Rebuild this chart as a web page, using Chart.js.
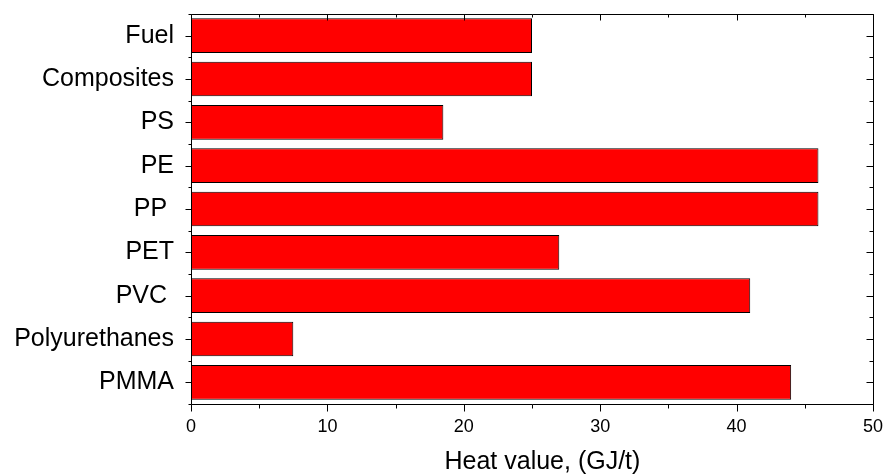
<!DOCTYPE html>
<html>
<head>
<meta charset="utf-8">
<script src="https://cdn.jsdelivr.net/npm/chart.js@4"></script>
<style>
  html, body { margin: 0; padding: 0; background: #fff; }
  #wrap { width: 884px; height: 475px; }
</style>
</head>
<body>
<div id="wrap"><canvas id="heatChart" width="884" height="475"></canvas></div>
<script>
// categories top to bottom, heat values in GJ/t
const categories = ["Fuel", "Composites", "PS", "PE", "PP ", "PET", "PVC ", "Polyurethanes", "PMMA"];
const heatValues = [25, 25, 18.5, 46, 46, 27, 41, 7.5, 44];
const xTicks = [0, 10, 20, 30, 40, 50];
const xMinorTicks = [5, 15, 25, 35, 45];

// frame box + origin-style tick marks (outward bottom/left, inward top/right)
const frameTicks = {
  id: "frameTicks",
  afterDraw(chart) {
    const { ctx, chartArea: a, scales: { x, y } } = chart;
    const L = Math.round(a.left) + 0.5, R = Math.round(a.right) + 0.5;
    const T = Math.round(a.top) + 0.5, B = Math.round(a.bottom) + 0.5;
    ctx.save();
    ctx.strokeStyle = "#000";
    ctx.lineWidth = 1;
    ctx.beginPath();
    ctx.rect(L, T, R - L, B - T);

    xTicks.forEach((v) => {
      const px = Math.round(x.getPixelForValue(v)) + 0.5;
      ctx.moveTo(px, B); ctx.lineTo(px, B + 7);
      ctx.moveTo(px, T); ctx.lineTo(px, T + 6);
    });
    xMinorTicks.forEach((v) => {
      const px = Math.round(x.getPixelForValue(v)) + 0.5;
      ctx.moveTo(px, B); ctx.lineTo(px, B + 4);
      ctx.moveTo(px, T); ctx.lineTo(px, T + 3);
    });

    categories.forEach((c, i) => {
      const py = Math.round(y.getPixelForValue(i)) + 0.5;
      ctx.moveTo(L, py); ctx.lineTo(L - 6, py);
      ctx.moveTo(R, py); ctx.lineTo(R - 7, py);
    });
    for (let i = 0; i <= categories.length; i++) {
      const py = Math.round(y.getPixelForValue(i - 0.5)) + 0.5;
      ctx.moveTo(L, py); ctx.lineTo(L - 3, py);
      ctx.moveTo(R, py); ctx.lineTo(R - 4, py);
    }
    ctx.stroke();
    ctx.restore();
  },
};

const ctx = document.getElementById("heatChart").getContext("2d");
new Chart(ctx, {
  type: "bar",
  data: {
    labels: categories,
    datasets: [
      {
        data: heatValues,
        backgroundColor: "#ff0000",
        borderColor: "#000000",
        borderWidth: 1,
        borderSkipped: false,
        categoryPercentage: 0.8,
        barPercentage: 1.0,
      },
    ],
  },
  options: {
    indexAxis: "y",
    responsive: false,
    devicePixelRatio: 1,
    animation: false,
    layout: { padding: { top: 14, right: 11, left: 0, bottom: 0 } },
    plugins: { legend: { display: false }, tooltip: { enabled: false } },
    scales: {
      x: {
        type: "linear",
        min: 0,
        max: 50,
        afterBuildTicks: (s) => { s.ticks = xTicks.map((v) => ({ value: v })); },
        afterFit: (s) => { s.height = 71; s.paddingLeft = 0; s.paddingRight = 0; },
        grid: { display: false, drawTicks: false },
        border: { display: false },
        ticks: {
          color: "#000",
          padding: 12,
          maxRotation: 0,
          font: { family: "'Liberation Sans', Arial, sans-serif", size: 18 },
        },
        title: {
          display: true,
          text: "   Heat value, (GJ/t)",
          color: "#000",
          padding: { top: 0, bottom: 0 },
          font: { family: "'Liberation Sans', Arial, sans-serif", size: 25, lineHeight: 1 },
        },
      },
      y: {
        type: "category",
        offset: true,
        afterFit: (s) => { s.width = 191; s.paddingTop = 0; s.paddingBottom = 0; },
        grid: { display: false, drawTicks: false },
        border: { display: false },
        ticks: {
          color: "#000",
          padding: 17,
          font: { family: "'Liberation Sans', Arial, sans-serif", size: 25 },
        },
      },
    },
  },
  plugins: [frameTicks],
});
</script>
</body>
</html>
